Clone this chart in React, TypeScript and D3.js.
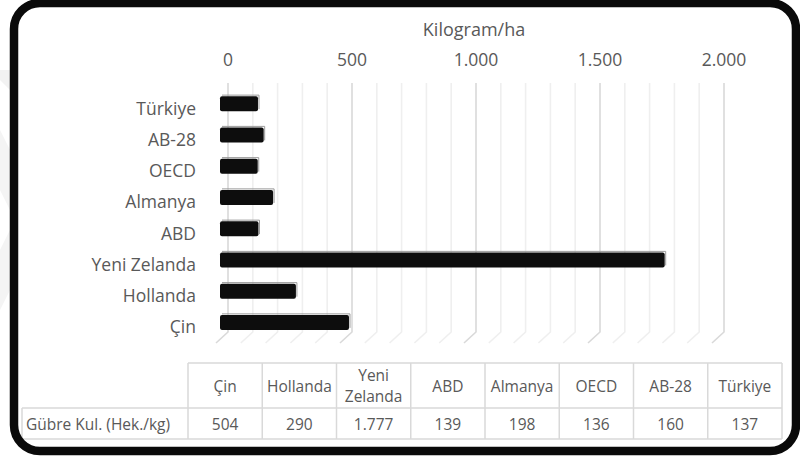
import React from "react";
import * as d3 from "d3";

const categories = ["Çin", "Hollanda", "Yeni Zelanda", "ABD", "Almanya", "OECD", "AB-28", "Türkiye"];
const values = [504, 290, 1777, 139, 198, 136, 160, 137];
const valueLabels = ["504", "290", "1.777", "139", "198", "136", "160", "137"];
const xTicks = [0, 500, 1000, 1500, 2000];
const tickLabels = ["0", "500", "1.000", "1.500", "2.000"];
const axisTitle = "Kilogram/ha";
const rowLabel = "Gübre Kul. (Hek./kg)";

const FONT = "'Open Sans', sans-serif";
const TXT = "#595959";

export default function App() {
  const W = 800, H = 461;
  const x = d3.scaleLinear().domain([0, 2000]).range([228, 724]);
  const yOrder = [...categories].reverse();
  const y = d3.scaleBand<string>().domain(yOrder).range([88, 338]).paddingInner(0.52).paddingOuter(0.26);
  const gridTop = 83, gridBot = 332, depthX = -12, depthY = 11;
  const minorTicks = d3.range(0, 2001, 100);

  const colX = d3.scaleBand<string>().domain(categories).range([188, 782]);
  const hdrTop = 363, hdrBot = 408, valBot = 439;

  return (
    <svg width={W} height={H} style={{ position: "absolute", left: 0, top: 0, background: "#fff" }} fontFamily={FONT}>
      <polygon points="0,70 10,70 10,90 0,80" fill="#f2f2f2" />
      <polygon points="0,130 10,150 10,210 0,190" fill="#f4f4f4" />
      <polygon points="0,250 10,230 10,290 0,310" fill="#f4f4f4" />
      {minorTicks.map((t) => {
        const major = t % 500 === 0;
        const cx = x(t);
        return (
          <path
            key={t}
            d={`M${cx},${gridTop} L${cx},${gridBot} L${cx + depthX},${gridBot + depthY}`}
            fill="none"
            stroke={major ? "#d9d9d9" : "#efefef"}
            strokeWidth={1.6}
          />
        );
      })}
      <text x={474} y={29} textAnchor="middle" dominantBaseline="central" fontSize={18} fill={TXT}>{axisTitle}</text>
      {xTicks.map((t, i) => (
        <text key={t} x={x(t)} y={59} textAnchor="middle" dominantBaseline="central" fontSize={17.5} fill={TXT}>{tickLabels[i]}</text>
      ))}
      {categories.map((c, i) => {
        const y0 = y(c)!;
        const bh = y.bandwidth();
        const x0 = x(0) - 8;
        const x1 = x(values[i]) - 4;
        return (
          <g key={c}>
            <path d={`M${x0 + 2},${y0 - 1} L${x1 + 1},${y0 - 1} L${x1 + 1},${y0 + bh - 2}`} fill="none" stroke="#9a9a9a" strokeWidth={1} />
            <rect x={x0} y={y0} width={x1 - x0} height={bh} rx={2} fill="#0d0d0d" />
          </g>
        );
      })}
      {categories.map((c) => (
        <text key={c} x={196} y={y(c)! + y.bandwidth() / 2 + 4} textAnchor="end" dominantBaseline="central" fontSize={17.5} fill={TXT}>{c}</text>
      ))}
      <g stroke="#d9d9d9" strokeWidth={1.5} fill="none">
        <line x1={188} x2={782} y1={hdrTop} y2={hdrTop} />
        <line x1={22} x2={782} y1={hdrBot} y2={hdrBot} />
        <line x1={22} x2={782} y1={valBot} y2={valBot} />
        <line x1={22} x2={22} y1={hdrBot} y2={valBot} />
        <line x1={188} x2={188} y1={hdrTop} y2={valBot} />
        {categories.map((c) => (
          <line key={c} x1={colX(c)! + colX.bandwidth()} x2={colX(c)! + colX.bandwidth()} y1={hdrTop} y2={valBot} />
        ))}
      </g>
      {categories.map((c, i) => {
        const cx = colX(c)! + colX.bandwidth() / 2;
        const parts = c === "Yeni Zelanda" ? ["Yeni", "Zelanda"] : [c];
        const hc = (hdrTop + hdrBot) / 2;
        return (
          <g key={c}>
            {parts.length === 1 ? (
              <text x={cx} y={hc} textAnchor="middle" dominantBaseline="central" fontSize={15.5} fill={TXT}>{c}</text>
            ) : (
              parts.map((p, k) => (
                <text key={p} x={cx} y={hc - 10.5 + k * 21} textAnchor="middle" dominantBaseline="central" fontSize={15.5} fill={TXT}>{p}</text>
              ))
            )}
            <text x={cx} y={(hdrBot + valBot) / 2} textAnchor="middle" dominantBaseline="central" fontSize={15.5} fill={TXT}>{valueLabels[i]}</text>
          </g>
        );
      })}
      <text x={26} y={(hdrBot + valBot) / 2} dominantBaseline="central" fontSize={15.5} fill={TXT}>{rowLabel}</text>
      <rect x={14} y={3} width={782} height={448} rx={26} fill="none" stroke="#0a0a0a" strokeWidth={8.5} />
    </svg>
  );
}
